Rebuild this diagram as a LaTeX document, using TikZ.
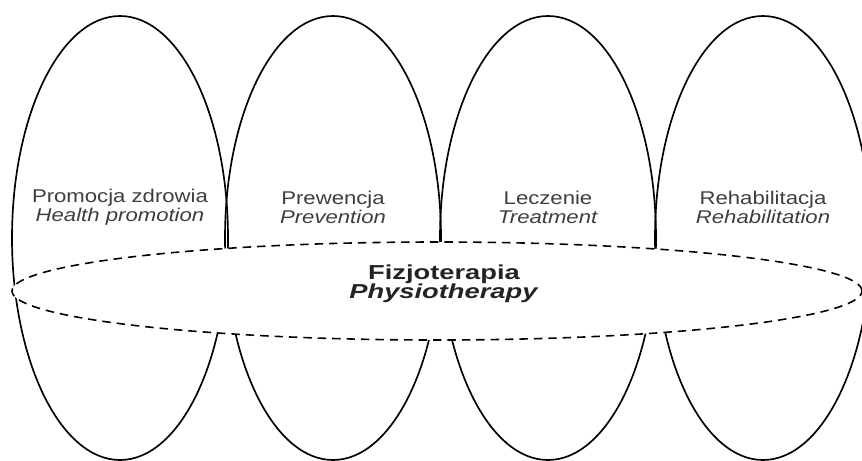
\documentclass[tikz,border=0pt]{standalone}
\usepackage{fontspec}
\setmainfont{Liberation Sans}
\newfontfamily\areafont{Liberation Sans}[FakeStretch=1.2]
\newfontfamily\corefont{Liberation Sans}[FakeStretch=1.35]
\usepackage{xcolor}
\definecolor{textgray}{RGB}{62,62,62}
\definecolor{coregray}{RGB}{35,35,35}
\usepackage{tikz}
\usetikzlibrary{shapes.geometric, positioning, calc}

\tikzset{
  area/.style={draw, ellipse, line width=0.95pt, inner sep=0pt,
    minimum width=4.32cm, minimum height=8.88cm},
  corearea/.style={draw, ellipse, fill=white, line width=0.9pt,
    dash pattern=on 4.8pt off 3.4pt, inner sep=0pt,
    minimum width=17cm, minimum height=1.96cm},
  areatext/.style={align=center, text=textgray, inner sep=0pt,
    font=\areafont\fontsize{10.5}{10.8}\selectfont},
  coretext/.style={align=center, text=coregray, inner sep=0pt,
    font=\corefont\bfseries\fontsize{11.5}{11}\selectfont}
}

\begin{document}
\begin{tikzpicture}
\useasboundingbox (0,0) rectangle (17.24,9.2);
\clip (0,0) rectangle (17.24,9.2);
\begin{scope}
% the four fields
\foreach \i/\xc in {1/2.40, 2/6.66, 3/10.96, 4/15.26} {
  \node[area] (area\i) at (\xc,4.44) {};
}

% physiotherapy across all of them
\node[corearea] (core) at (8.74,3.38) {};

\foreach \i/\pl/\en in {
  1/Promocja zdrowia/Health promotion,
  2/Prewencja/Prevention,
  3/Leczenie/Treatment,
  4/Rehabilitacja/Rehabilitation}
{
  \node[areatext] (name\i) at ($(area\i.center)+(0,0.62)$) {\pl\\\textit{\en}};
}

\node[coretext] (corename) at (8.88,3.52) {Fizjoterapia\\\textit{Physiotherapy}};
\end{scope}
\end{tikzpicture}
\end{document}
